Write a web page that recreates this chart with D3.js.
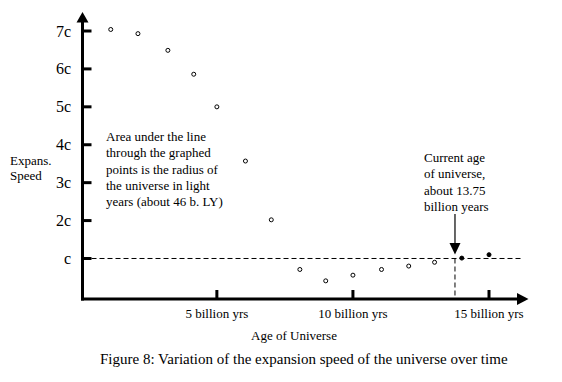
<!DOCTYPE html>
<html><head><meta charset="utf-8">
<script src="https://cdn.jsdelivr.net/npm/d3@7"></script>
<style>html,body{margin:0;padding:0;background:#fff;}svg{display:block;font-family:"Liberation Serif","Times New Roman",serif;}</style>
</head><body>
<script>
// Data
const ages = [1.1, 2.1, 3.2, 4.15, 5.0, 6.05, 7.0, 8.05, 9.0, 10.0, 11.05, 12.05, 13.0, 14.0, 15.0];
const speeds = [7.04, 6.93, 6.49, 5.86, 5.0, 3.57, 2.02, 0.71, 0.41, 0.56, 0.71, 0.8, 0.9, 1.01, 1.1];
const filled = [false,false,false,false,false,false,false,false,false,false,false,false,false,true,true];
const yTicks = [1,2,3,4,5,6,7];
const yTickLabels = ["c","2c","3c","4c","5c","6c","7c"];
const xTicks = [5,10,15];
const xTickLabels = ["5 billion yrs","10 billion yrs","15 billion yrs"];
const currentAge = 13.75;
const lightSpeed = 1;
const noteLines = ["Area under the line","through the graphed","points is the radius of","the universe in light","years (about 46 b. LY)"];
const ageLines = ["Current age","of universe,","about 13.75","billion years"];

const W = 562, H = 382;
const svg = d3.select("body").append("svg").attr("width", W).attr("height", H);

const x = d3.scaleLinear().domain([0, 15]).range([80.8, 489]);
const y = d3.scaleLinear().domain([0, 7]).range([296.4, 31]);
const axX = 82.5, axY = 299;

// dashed c line
svg.append("line").attr("x1", axX + 9).attr("x2", 523)
  .attr("y1", y(lightSpeed)).attr("y2", y(lightSpeed))
  .attr("stroke", "#000").attr("stroke-width", 1).attr("stroke-dasharray", "5,3");
// dashed vertical at current age
svg.append("line").attr("x1", x(currentAge)).attr("x2", x(currentAge))
  .attr("y1", y(lightSpeed)).attr("y2", axY)
  .attr("stroke", "#000").attr("stroke-width", 1).attr("stroke-dasharray", "5,3");

// axes lines
svg.append("line").attr("x1", axX).attr("x2", axX).attr("y1", 20).attr("y2", axY + 1.5)
  .attr("stroke", "#000").attr("stroke-width", 3);
svg.append("line").attr("x1", axX - 1.5).attr("x2", 520).attr("y1", axY).attr("y2", axY)
  .attr("stroke", "#000").attr("stroke-width", 3);
// arrowheads
svg.append("path").attr("d", `M${axX - 6},22.5 L${axX},12 L${axX + 6},22.5 Z`).attr("fill", "#000");
svg.append("path").attr("d", `M517,${axY - 6} L528.5,${axY} L517,${axY + 6} Z`).attr("fill", "#000");

// y ticks
svg.append("g").selectAll("line").data(yTicks).join("line")
  .attr("x1", axX).attr("x2", axX + 9)
  .attr("y1", d => y(d)).attr("y2", d => y(d))
  .attr("stroke", "#000").attr("stroke-width", 3);
svg.append("g").selectAll("text").data(yTicks).join("text")
  .attr("x", 71).attr("y", d => y(d) + 5.5)
  .attr("text-anchor", "end").attr("font-size", 16)
  .text((d, i) => yTickLabels[i]);

// x ticks
svg.append("g").selectAll("line").data(xTicks).join("line")
  .attr("x1", d => x(d)).attr("x2", d => x(d))
  .attr("y1", axY - 9).attr("y2", axY)
  .attr("stroke", "#000").attr("stroke-width", 3);
svg.append("g").selectAll("text").data(xTicks).join("text")
  .attr("x", d => x(d)).attr("y", 318)
  .attr("text-anchor", "middle").attr("font-size", 13)
  .text((d, i) => xTickLabels[i]);

// axis titles
svg.append("text").attr("x", 294).attr("y", 340).attr("text-anchor", "middle").attr("font-size", 13).text("Age of Universe");
svg.append("text").attr("x", 10).attr("y", 165).attr("font-size", 13).text("Expans.");
svg.append("text").attr("x", 10).attr("y", 180).attr("font-size", 13).text("Speed");

// caption
svg.append("text").attr("x", 100).attr("y", 364).attr("font-size", 15)
  .text("Figure 8: Variation of the expansion speed of the universe over time");

// notes
svg.append("g").selectAll("text").data(noteLines).join("text")
  .attr("x", 106).attr("y", (d, i) => 141 + i * 16.3).attr("font-size", 13).text(d => d);
svg.append("g").selectAll("text").data(ageLines).join("text")
  .attr("x", 424).attr("y", (d, i) => 162 + i * 16.3).attr("font-size", 13).text(d => d);

// arrow to current age
svg.append("line").attr("x1", x(currentAge)).attr("x2", x(currentAge)).attr("y1", 214).attr("y2", 244)
  .attr("stroke", "#000").attr("stroke-width", 1.2);
svg.append("path")
  .attr("d", `M${x(currentAge) - 5.5},243 L${x(currentAge)},${y(lightSpeed) - 4} L${x(currentAge) + 5.5},243 Z`)
  .attr("fill", "#000");

// points
svg.append("g").selectAll("circle").data(ages).join("circle")
  .attr("cx", d => x(d)).attr("cy", (d, i) => y(speeds[i]))
  .attr("r", 2)
  .attr("fill", (d, i) => filled[i] ? "#000" : "#fff")
  .attr("stroke", "#000").attr("stroke-width", 1);
</script>
</body></html>
